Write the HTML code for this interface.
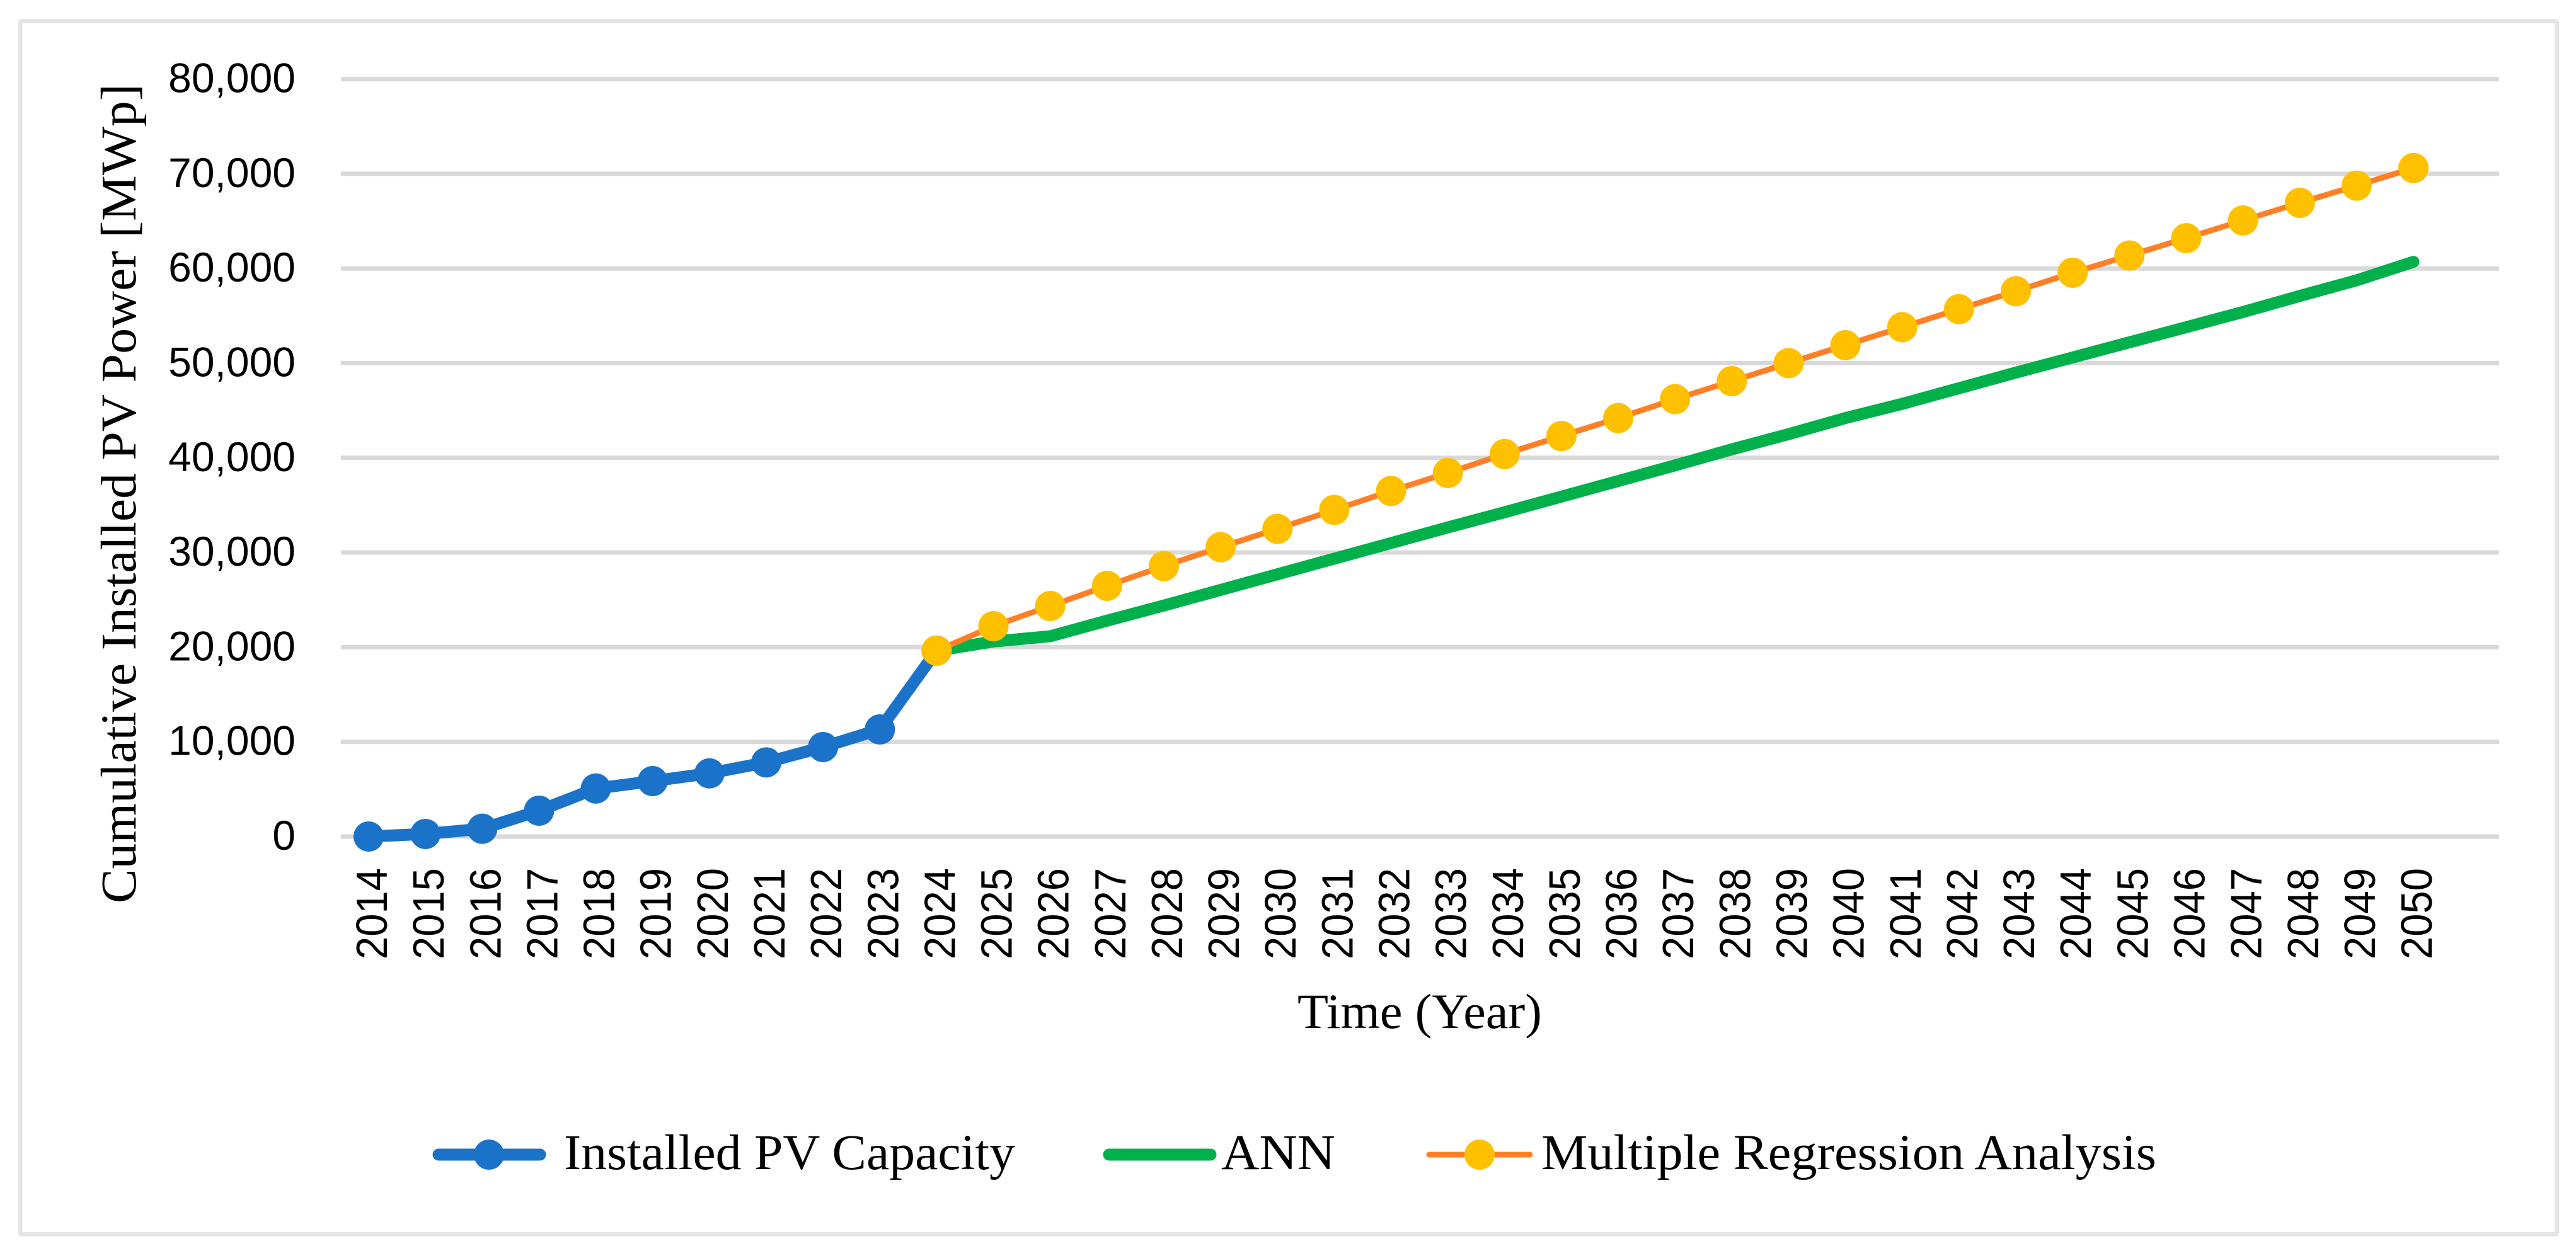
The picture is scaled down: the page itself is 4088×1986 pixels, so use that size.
<!DOCTYPE html>
<html lang="en">
<head>
<meta charset="utf-8">
<title>Cumulative Installed PV Power</title>
<style>
  html, body { margin: 0; padding: 0; background: #ffffff; }
  svg { display: block; }
  .tick { font-family: "Liberation Sans", sans-serif; fill: #000; }
  .serif { font-family: "Liberation Serif", serif; fill: #000; }
</style>
</head>
<body>
<svg id="chart" xmlns="http://www.w3.org/2000/svg" width="4088" height="1986" viewBox="0 0 4088 1986">
  <rect x="32" y="33.5" width="4025.5" height="1926" rx="3" fill="#ffffff" stroke="#e5e5e5" stroke-width="7"/>
  <g id="grid"></g>
  <g id="y-ticks"></g>
  <g id="x-ticks"></g>
  <g id="series"></g>
  <text class="serif" font-size="79" textLength="1301" lengthAdjust="spacingAndGlyphs" transform="translate(215 1434) rotate(-90)">Cumulative Installed PV Power [MWp]</text>
  <text class="serif" font-size="78" x="2059" y="1632" textLength="388" lengthAdjust="spacingAndGlyphs">Time (Year)</text>
  <g>
    <g>
      <line x1="696" y1="1833" x2="857" y2="1833" stroke="#1a73c9" stroke-width="19" stroke-linecap="round"/>
      <circle cx="776" cy="1833" r="24" fill="#1a73c9"/>
      <text class="serif" font-size="79" x="895" y="1856" textLength="716" lengthAdjust="spacingAndGlyphs">Installed PV Capacity</text>
    </g>
    <g>
      <line x1="1760" y1="1833" x2="1921" y2="1833" stroke="#00b14b" stroke-width="19" stroke-linecap="round"/>
      <text class="serif" font-size="79" x="1938" y="1856" textLength="181" lengthAdjust="spacingAndGlyphs">ANN</text>
    </g>
    <g>
      <line x1="2268" y1="1833" x2="2428" y2="1833" stroke="#ff7f27" stroke-width="9" stroke-linecap="round"/>
      <circle cx="2348" cy="1833" r="24" fill="#ffc000"/>
      <text class="serif" font-size="79" x="2446" y="1856" textLength="976" lengthAdjust="spacingAndGlyphs">Multiple Regression Analysis</text>
    </g>
  </g>
</svg>
<script>
const years = [2014,2015,2016,2017,2018,2019,2020,2021,2022,2023,2024,2025,2026,2027,2028,2029,2030,2031,2032,2033,2034,2035,2036,2037,2038,2039,2040,2041,2042,2043,2044,2045,2046,2047,2048,2049,2050];
const yTickValues = [0,10000,20000,30000,40000,50000,60000,70000,80000];
const installedYears = [2014,2015,2016,2017,2018,2019,2020,2021,2022,2023,2024];
const installedValues = [0,270,820,2730,5070,5855,6670,7830,9450,11310,19630];
const annYears = [2024,2025,2026,2027,2028,2029,2030,2031,2032,2033,2034,2035,2036,2037,2038,2039,2040,2041,2042,2043,2044,2045,2046,2047,2048,2049,2050];
const annValues = [19630,20600,21150,22800,24400,26050,27700,29350,31000,32650,34250,35900,37550,39200,40900,42500,44200,45700,47350,49000,50600,52200,53800,55400,57100,58750,60700];
const regressionYears = annYears;
const regressionValues = [19630,22220,24350,26480,28560,30560,32500,34500,36500,38400,40400,42300,44200,46200,48100,50000,51900,53800,55700,57600,59550,61370,63200,65070,66930,68750,70610];

const SVG_NS = 'http://www.w3.org/2000/svg';
function xScale(year) { return 585 + (year - 2014) * 90.14; }
function yScale(value) { return 1328 - value * 150.3 / 10000; }
function make(tag, attrs, parent) {
  const el = document.createElementNS(SVG_NS, tag);
  for (const k in attrs) el.setAttribute(k, attrs[k]);
  parent.appendChild(el);
  return el;
}
function formatTick(v) { return String(v).replace(/\B(?=(\d{3})+$)/g, ','); }

const gridGroup = document.getElementById('grid');
const yGroup = document.getElementById('y-ticks');
const xGroup = document.getElementById('x-ticks');
const seriesGroup = document.getElementById('series');

yTickValues.forEach(function (v) {
  const line = make('line', { x1: 541, x2: 3966, y1: yScale(v), y2: yScale(v), stroke: '#d9d9d9', 'stroke-width': 7 }, gridGroup);
  
  
  const label = make('text', { class: 'tick', 'font-size': 66, x: 469, y: yScale(v) + 21, 'text-anchor': 'end' }, yGroup);
  label.textContent = formatTick(v);
  
  
});

years.forEach(function (year) {
  const x = xScale(year) + 29;
  const label = make('text', { class: 'tick', 'font-size': 70, textLength: 145, lengthAdjust: 'spacingAndGlyphs', transform: 'translate(' + x + ' 1523) rotate(-90)' }, xGroup);
  label.textContent = String(year);
  
  
});

function linePoints(xs, ys) {
  return xs.map(function (yr, i) { return xScale(yr).toFixed(1) + ',' + yScale(ys[i]).toFixed(1); }).join(' ');
}

const installedLine = make('polyline', { points: linePoints(installedYears, installedValues), fill: 'none', stroke: '#1a73c9', 'stroke-width': 19, 'stroke-linejoin': 'round', 'stroke-linecap': 'round' }, seriesGroup);


installedYears.forEach(function (yr, i) {
  const dot = make('circle', { cx: xScale(yr), cy: yScale(installedValues[i]), r: 24, fill: '#1a73c9' }, seriesGroup);
  
  
});

const annLine = make('polyline', { points: linePoints(annYears, annValues), fill: 'none', stroke: '#00b14b', 'stroke-width': 19, 'stroke-linejoin': 'round', 'stroke-linecap': 'round' }, seriesGroup);



const regressionLine = make('polyline', { points: linePoints(regressionYears, regressionValues), fill: 'none', stroke: '#ff7f27', 'stroke-width': 9, 'stroke-linejoin': 'round' }, seriesGroup);


regressionYears.forEach(function (yr, i) {
  const dot = make('circle', { cx: xScale(yr), cy: yScale(regressionValues[i]), r: 24, fill: '#ffc000' }, seriesGroup);
  
  
});
</script>
</body>
</html>
